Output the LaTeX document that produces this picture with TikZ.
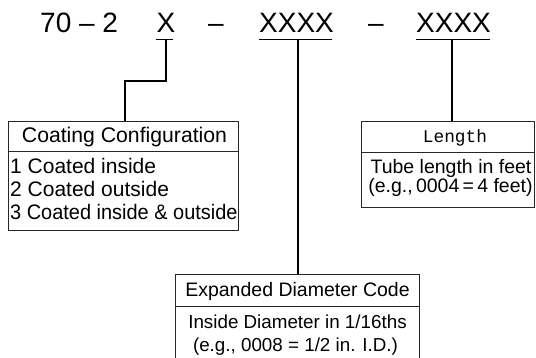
\documentclass[tikz,border=0pt]{standalone}
\usepackage{fontspec}
\setmainfont{Liberation Sans}
\newfontfamily\monofam{Liberation Mono}
\begin{document}
\begin{tikzpicture}[x=1pt,y=-1pt,
  codetext/.style={inner sep=0pt,anchor=base west,font=\fontsize{28}{30}\selectfont},
  boxframe/.style={draw=black!85,line width=1pt,anchor=north west,inner sep=0pt},
  rule/.style={draw=black!85,line width=1pt},
  underbar/.style={line width=1.8pt},
  leader/.style={line width=1.8pt},
  boxtext/.style={inner sep=0pt,anchor=base,font=\fontsize{19.5}{21}\selectfont},
  listtext/.style={inner sep=0pt,anchor=base west,font=\fontsize{21}{23}\selectfont}]
\useasboundingbox (0,0) rectangle (536,358);
\clip (0,0) rectangle (536,358);

% part number
\node[codetext] (pre) at (40,33) {70 -- 2};
\node[codetext] (cx) at (156.5,33) {X};
\node[codetext] (d1) at (208,33) {--};
\node[codetext] (cd) at (259,33) {XXXX};
\node[codetext] (d2) at (368,33) {--};
\node[codetext] (cl) at (416,33) {XXXX};

% underlines below each field
\coordinate (uxa) at (156,39.5);  \coordinate (uxb) at (173,39.5);
\coordinate (uda) at (259,39.5);  \coordinate (udb) at (332,39.5);
\coordinate (ula) at (416,39.5);  \coordinate (ulb) at (490,39.5);
\draw[underbar] (uxa) -- (uxb);
\draw[underbar] (uda) -- (udb);
\draw[underbar] (ula) -- (ulb);

% boxes
\node[boxframe,minimum width=230pt,minimum height=109pt] (coat) at (8,121) {};
\node[boxframe,minimum width=173pt,minimum height=86.5pt] (len) at (361,121) {};
\node[boxframe,minimum width=244pt,minimum height=95pt] (dia) at (175,274) {};

% header separators
\draw[rule] (coat.west |- 0,152) -- (coat.east |- 0,152);
\draw[rule] (len.west |- 0,152.5) -- (len.east |- 0,152.5);
\draw[rule] (dia.west |- 0,306.5) -- (dia.east |- 0,306.5);

% leaders from fields to boxes
\coordinate (xdrop) at (166,39.5);
\coordinate (xbend) at (166,81);
\coordinate (xturn) at (125,81);
\draw[leader] (xdrop) -- (xbend) -- (xturn) -- (xturn |- coat.north);
\coordinate (ddrop) at (298,39.5);
\draw[leader] (ddrop) -- (ddrop |- dia.north);
\coordinate (ldrop) at (452,39.5);
\draw[leader] (ldrop) -- (ldrop |- len.north);

% coating box text
\node[inner sep=0pt,anchor=base,font=\fontsize{21.2}{23}\selectfont] (coath) at (124.5,143) {Coating Configuration};
\node[listtext] (c1) at (10,174) {1 Coated inside};
\node[listtext] (c2) at (10,197) {2 Coated outside};
\node[listtext] (c3) at (10,220) {\scalebox{0.95}[1]{3 Coated inside \& outside}};

% length box text
\node[inner sep=0pt,anchor=base,font=\monofam\fontsize{17.8}{20}\selectfont] (lenh) at (455,143) {Length};
\node[boxtext] (l1) at (451,174) {Tube length in feet};
\node[boxtext] (l2) at (450.5,192.5) {(e.g.,\,0004\,=\,4 feet)};

% diameter box text
\node[boxtext] (diah) at (297.5,297) {Expanded Diameter Code};
\node[boxtext,font=\fontsize{18.8}{21}\selectfont] (d1t) at (297.5,329) {Inside Diameter in 1/16ths};
\node[boxtext,font=\fontsize{18.8}{21}\selectfont] (d2t) at (295.5,351.5) {(e.g., 0008 = 1/2 in. I.D.)};
\end{tikzpicture}
\end{document}
